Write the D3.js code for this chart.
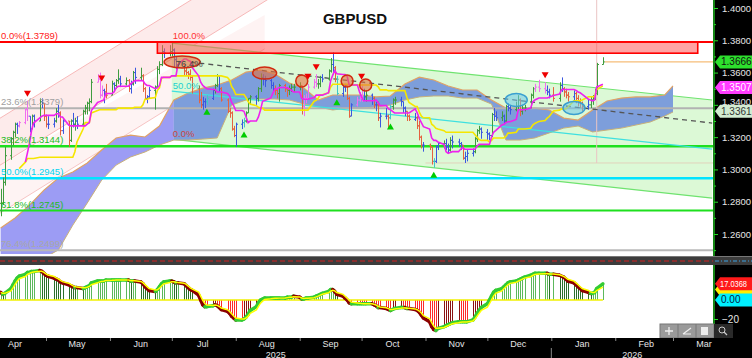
<!DOCTYPE html>
<html><head><meta charset="utf-8">
<script src="https://cdn.jsdelivr.net/npm/d3@7"></script>
<style>
html,body{margin:0;padding:0;background:#fff;}
svg{display:block;font-family:"Liberation Sans",Arial,sans-serif;}
</style></head><body>
<svg id="c" width="752" height="358"></svg>
<script>
// ---------------- DATA ----------------
const title = "GBPUSD";
const startDate = "2025-04-09";
const holidays = ["2025-12-25","2026-01-01"];
const high = [1.2880,1.2950,1.3140,
1.3200,1.3240,1.3290,1.3290,1.3300, 1.3380,1.3425,1.3330,1.3340,1.3340,
1.3440,1.3440,1.3410,1.3340,1.3330, 1.3320,1.3380,1.3400,1.3360,1.3310,
1.3300,1.3310,1.3350,1.3320,1.3330, 1.3370,1.3400,1.3420,1.3440,1.3560,
1.3590,1.3600,1.3520,1.3500,1.3530, 1.3550,1.3540,1.3560,1.3620,1.3580,
1.3570,1.3560,1.3550,1.3610,1.3630, 1.3630,1.3590,1.3510,1.3460,1.3510,
1.3520,1.3640,1.3670,1.3770,1.3750, 1.3770,1.3789,1.3750,1.3700,1.3670,
1.3650,1.3630,1.3610,1.3620,1.3580, 1.3520,1.3480,1.3450,1.3440,1.3460,
1.3500,1.3530,1.3590,1.3580,1.3510, 1.3440,1.3380,1.3360,1.3270,1.3290,
1.3310,1.3320,1.3360,1.3440,1.3460, 1.3460,1.3510,1.3595,1.3590,1.3580,
1.3560,1.3540,1.3520,1.3500,1.3530, 1.3530,1.3510,1.3520,1.3530,1.3530,
1.3540,1.3510,1.3460,1.3470,1.3530, 1.3560,1.3590,1.3560,1.3580,1.3590,
1.3620,1.3690,1.3726,1.3640,1.3580, 1.3520,1.3530,1.3520,1.3450,1.3410,
1.3450,1.3480,1.3530,1.3500,1.3490, 1.3470,1.3450,1.3420,1.3420,1.3350,
1.3380,1.3340,1.3400,1.3440,1.3450, 1.3450,1.3420,1.3390,1.3360,1.3340,
1.3350,1.3330,1.3300,1.3210,1.3170, 1.3160,1.3140,1.3070,1.3150,1.3170,
1.3180,1.3190,1.3160,1.3200,1.3210, 1.3190,1.3170,1.3150,1.3110,1.3120,
1.3130,1.3200,1.3250,1.3270,1.3260, 1.3250,1.3230,1.3350,1.3380,1.3360,
1.3360,1.3340,1.3400,1.3410,1.3400, 1.3420,1.3460,1.3440,1.3400,1.3400,
1.3470,1.3510,1.3530,1.3555, 1.3540,1.3520,1.3500,1.3510,
1.3540,1.3570,1.3510,1.3500,1.3480, 1.3490,1.3480,1.3460,1.3440,1.3420,
1.3430,1.3450,1.3460,1.3500,1.3660, 1.3695];
const low = [1.2710,1.2780,1.2900,
1.3060,1.3150,1.3200,1.3220,1.3260, 1.3280,1.3300,1.3230,1.3250,1.3260,
1.3300,1.3380,1.3300,1.3260,1.3250, 1.3260,1.3290,1.3320,1.3210,1.3220,
1.3140,1.3170,1.3260,1.3240,1.3250, 1.3260,1.3340,1.3340,1.3360,1.3410,
1.3540,1.3440,1.3450,1.3410,1.3440, 1.3460,1.3480,1.3500,1.3530,1.3510,
1.3520,1.3480,1.3470,1.3520,1.3530, 1.3550,1.3480,1.3430,1.3410,1.3440,
1.3370,1.3510,1.3590,1.3640,1.3690, 1.3700,1.3700,1.3630,1.3620,1.3640,
1.3580,1.3580,1.3560,1.3550,1.3470, 1.3410,1.3380,1.3370,1.3380,1.3400,
1.3430,1.3470,1.3510,1.3480,1.3420, 1.3350,1.3320,1.3240,1.3200,1.3140,
1.3250,1.3260,1.3290,1.3350,1.3400, 1.3400,1.3420,1.3480,1.3520,1.3510,
1.3500,1.3480,1.3460,1.3440,1.3420, 1.3480,1.3450,1.3460,1.3480,1.3480,
1.3490,1.3340,1.3330,1.3410,1.3440, 1.3500,1.3510,1.3500,1.3510,1.3540,
1.3550,1.3600,1.3600,1.3540,1.3460, 1.3450,1.3480,1.3430,1.3320,1.3330,
1.3390,1.3420,1.3420,1.3430,1.3420, 1.3400,1.3380,1.3360,1.3300,1.3260,
1.3310,1.3250,1.3310,1.3370,1.3400, 1.3390,1.3350,1.3330,1.3300,1.3300,
1.3300,1.3250,1.3180,1.3130,1.3110, 1.3120,1.3030,1.3010,1.3040,1.3120,
1.3130,1.3120,1.3100,1.3110,1.3130, 1.3140,1.3120,1.3060,1.3040,1.3050,
1.3080,1.3100,1.3170,1.3220,1.3190, 1.3180,1.3180,1.3200,1.3300,1.3300,
1.3300,1.3280,1.3290,1.3360,1.3340, 1.3360,1.3370,1.3330,1.3340,1.3360,
1.3380,1.3440,1.3480,1.3480, 1.3470,1.3460,1.3440,1.3420,
1.3420,1.3480,1.3450,1.3440,1.3420, 1.3430,1.3410,1.3390,1.3380,1.3360,
1.3370,1.3380,1.3400,1.3430,1.3460, 1.3650];
const close = [1.2790,1.2920,1.3085,
1.3190,1.3230,1.3280,1.3270,1.3290, 1.3370,1.3330,1.3250,1.3330,1.3300,
1.3420,1.3410,1.3330,1.3280,1.3280, 1.3300,1.3360,1.3350,1.3240,1.3300,
1.3180,1.3300,1.3280,1.3300,1.3280, 1.3360,1.3380,1.3410,1.3420,1.3540,
1.3560,1.3460,1.3490,1.3480,1.3460, 1.3530,1.3520,1.3550,1.3560,1.3530,
1.3550,1.3500,1.3530,1.3600,1.3570, 1.3580,1.3500,1.3440,1.3450,1.3490,
1.3510,1.3620,1.3650,1.3730,1.3720, 1.3730,1.3740,1.3680,1.3650,1.3650,
1.3610,1.3600,1.3590,1.3570,1.3500, 1.3430,1.3400,1.3420,1.3420,1.3440,
1.3490,1.3520,1.3580,1.3500,1.3430, 1.3360,1.3350,1.3250,1.3210,1.3280,
1.3290,1.3300,1.3350,1.3440,1.3450, 1.3440,1.3500,1.3570,1.3560,1.3550,
1.3520,1.3500,1.3490,1.3470,1.3520, 1.3500,1.3490,1.3500,1.3510,1.3510,
1.3520,1.3390,1.3440,1.3440,1.3510, 1.3540,1.3530,1.3530,1.3570,1.3560,
1.3610,1.3650,1.3630,1.3560,1.3470, 1.3510,1.3520,1.3440,1.3330,1.3400,
1.3430,1.3440,1.3490,1.3450,1.3460, 1.3440,1.3400,1.3400,1.3320,1.3330,
1.3330,1.3320,1.3390,1.3430,1.3430, 1.3420,1.3380,1.3360,1.3330,1.3310,
1.3320,1.3270,1.3200,1.3150,1.3150, 1.3140,1.3050,1.3050,1.3140,1.3160,
1.3160,1.3140,1.3120,1.3180,1.3170, 1.3160,1.3150,1.3070,1.3080,1.3100,
1.3110,1.3190,1.3240,1.3250,1.3230, 1.3220,1.3210,1.3340,1.3330,1.3320,
1.3330,1.3300,1.3390,1.3380,1.3370, 1.3390,1.3430,1.3360,1.3380,1.3380,
1.3460,1.3500,1.3510,1.3500, 1.3490,1.3480,1.3460,1.3440,
1.3520,1.3500,1.3480,1.3460,1.3450, 1.3470,1.3440,1.3420,1.3410,1.3390,
1.3400,1.3430,1.3440,1.3470,1.3650, 1.3666];
const osc = [8,6,7,
12,16,20,23,25, 27,29,29,30,30, 31,30,28,26,25, 23,22,21,19,18,
16,15,14,13,13, 12,13,14,15,18, 20,20,20,20,21, 21,21,21,21,21,
21,21,20,20,20, 19,17,14,12,10, 9,11,14,17,19, 20,20,19,18,18,
17,15,13,11,10, 5,0,-5,-7,-7, -6,-5,-6,-8,-10, -12,-14,-17,-19,-21,
-21,-20,-18,-15,-11, -7,-3,0,1,2, 2,2,2,2,2, 2,3,3,3,4,
3,1,1,2,2, 3,4,5,6,7, 9,11,11,9,6, 4,2,0,-3,-4,
-4,-4,-4,-4,-4, -4,-5,-6,-8,-8, -9,-10,-11,-10,-9, -8,-8,-8,-9,-9,
-10,-11,-13,-16,-19, -23,-28,-31,-32,-30, -28,-27,-26,-25,-24, -23,-23,-23,-23,-23,
-21,-18,-14,-11,-8, -4,0,4,8,10, 12,14,16,18,19, 20,21,22,23,24,
26,27,28,28, 28,28,27,27, 26,25,24,22,20, 18,16,14,12,10,
8,7,7,8,12, 17.04];
// Ichimoku cloud edges, one reading per week from startDate, last reading at cloudEnd
const cloudSpanA = [1.2637,1.2699,1.2779,1.2872,1.2947,1.2984,1.3040,1.3120,1.3195,1.3213,1.3201,1.3269,
1.3430,1.3473,1.3504,1.3523,1.3554,1.3603,1.3616,1.3591,1.3535,1.3504,1.3430,1.3461,1.3461,1.3461,
1.3449,1.3455,1.3529,1.3572,1.3554,1.3517,1.3492,1.3492,1.3430,1.3380,1.3380,1.3380,1.3368,1.3318,
1.3306,1.3368,1.3424,1.3442,1.3449,1.3449,1.3461,1.3517];
const cloudSpanB = [1.2451,1.2451,1.2451,1.2451,1.2501,1.2655,1.2792,1.2934,1.3027,1.3077,1.3108,1.3151,
1.3182,1.3182,1.3188,1.3195,1.3399,1.3430,1.3436,1.3436,1.3430,1.3405,1.3387,1.3368,1.3380,1.3380,
1.3387,1.3399,1.3430,1.3449,1.3455,1.3455,1.3442,1.3442,1.3405,1.3182,1.3182,1.3195,1.3226,1.3256,
1.3269,1.3232,1.3244,1.3256,1.3275,1.3294,1.3331,1.3356];
const cloudEnd = "2026-03-01";
const cloudBullishWeeks = 12;
const fibLevels = [1.3789,1.3379,1.3144,1.2945,1.2745,1.2499];
const fibLabels = ["0.0%(1.3789)","23.6%(1.3379)","38.2%(1.3144)","50.0%(1.2945)","61.8%(1.2745)","76.4%(1.2499)"];
const riseChannel = {dates:["2025-04-05","2025-09-22"], upper:[1.3288,1.4632], middle:[1.2997,1.4341]};
const riseChannelLow = {dates:["2025-04-05","2025-08-15"], lower:[1.2700,1.3747], middle:[1.2997,1.3957]};
const fallChannel = {dates:["2025-07-01","2026-03-20"], upper:[1.3783,1.3430], lower:[1.3188,1.2822]};
const fallChannelLevels = [1.0,0.764,0.5,0.0];
const fallChannelLabels = ["100.0%","76.4%","50.0%","0.0%"];
const trendLine = {dates:["2025-07-10","2026-03-20"], prices:[1.3665,1.3287]};
const resistZone = {dates:["2025-06-24","2026-03-13"], top:1.3789, bottom:1.3720};
const sellSignals = ["2025-04-22","2025-05-28","2025-09-05","2025-09-09","2025-10-01","2025-12-29"];
const buySignals = ["2025-07-18","2025-08-05","2025-09-19","2025-10-15","2025-11-05"];
const redMarks = [{d:"2025-07-06",p:1.3665,w:1},{d:"2025-08-15",p:1.3597,w:0.5},{d:"2025-09-02",p:1.3548,w:0},{d:"2025-09-24",p:1.3548,w:0},{d:"2025-10-03",p:1.3523,w:0}];
const blueMarks = [{d:"2025-12-15",p:1.3430},{d:"2026-01-12",p:1.3380}];
const crossDate = "2026-01-23", crossPrice = 1.3040, crossLineStart = "2025-11-01";
const priceTicks = [1.26,1.28,1.30,1.32,1.34,1.36,1.38,1.40];
const monthLabels = ["Apr","May","Jun","Jul","Aug","Sep","Oct","Nov","Dec","Jan","Feb","Mar"];
const yearLabels = ["2025","2026"];
const lastPrice = 1.3666, tenkanLabel = 1.3507, lineLabel = 1.3361;
const oscLast = 17.0368, oscSignalLevel = 11.0, oscZero = 0.00, oscTicks = [-20];

// ---------------- SETUP ----------------
const parse = d3.timeParse("%Y-%m-%d"), fmt = d3.timeFormat("%Y-%m-%d");
const svg = d3.select("#c");
const PR = 713, MB = 254;
const x = d3.scaleTime().domain([parse("2025-05-01"), parse("2026-03-01")]).range([46, 673]);
const y = d3.scaleLinear().domain([1.26, 1.40]).range([234, 8]);
const yo = d3.scaleLinear().domain([-40, 36.8]).range([338, 265]);

const hol = new Set(holidays);
const dates = [];
for (let d = parse(startDate); dates.length < close.length; d = d3.timeDay.offset(d, 1)) {
  const wd = d.getDay();
  if (wd !== 0 && wd !== 6 && !hol.has(fmt(d))) dates.push(new Date(d));
}
const idxOf = s => dates.findIndex(d => fmt(d) === s);
const bars = dates.map((d, i) => ({d, i, h: high[i], l: low[i], c: close[i], o: i ? close[i - 1] : close[0]}));

function midline(n, start) {
  return bars.map((b, i) => {
    if (i < start) return null;
    const s = Math.max(0, i - n + 1);
    return (d3.max(high.slice(s, i + 1)) + d3.min(low.slice(s, i + 1))) / 2;
  });
}
const tenkan = midline(9, 8), kijun = midline(26, 7);

svg.append("rect").attr("width", 752).attr("height", 358).attr("fill", "#fff");
const defs = svg.append("defs");
defs.append("clipPath").attr("id", "mc").append("rect").attr("x", 0).attr("y", 0).attr("width", PR).attr("height", MB);
const g = svg.append("g").attr("clip-path", "url(#mc)");

function band(dts, a, b, fill) {
  const d = dts.map(parse);
  g.append("path").attr("d", `M${x(d[0])},${y(a[0])}L${x(d[1])},${y(a[1])}L${x(d[1])},${y(b[1])}L${x(d[0])},${y(b[0])}Z`).attr("fill", fill);
}
function seg(dts, a, col, w) {
  const d = dts.map(parse);
  g.append("line").attr("x1", x(d[0])).attr("y1", y(a[0])).attr("x2", x(d[1])).attr("y2", y(a[1])).attr("stroke", col).attr("stroke-width", w);
}
// rising (pink) channel
band(riseChannel.dates, riseChannel.upper, riseChannel.middle, "#fdebeb");
band(riseChannelLow.dates, riseChannelLow.middle, riseChannelLow.lower, "#fef3f3");
seg(riseChannel.dates, riseChannel.upper, "#f7b8b8", 1);
seg(riseChannel.dates, riseChannel.middle, "#f7b8b8", 1);
seg(riseChannelLow.dates, riseChannelLow.lower, "#f7c4c4", 1);

// falling (green) channel
const fc = fallChannel, fd = fc.dates.map(parse);
band(fc.dates, fc.upper, fc.lower, "#dcf9d6");
seg(fc.dates, fc.upper, "#6fe36f", 1.2);
seg(fc.dates, fc.lower, "#6fe36f", 1.2);

// cloud
const cDates = cloudSpanA.map((v, k) => k < cloudSpanA.length - 1 ? d3.timeDay.offset(parse(startDate), 7 * k) : parse(cloudEnd));
const cloud = cDates.map((d, k) => ({d, a: cloudSpanA[k], b: cloudSpanB[k], k}));
const area = d3.area().x(p => x(p.d)).y0(p => y(p.b)).y1(p => y(p.a));
g.append("path").datum(cloud.filter(p => p.k <= cloudBullishWeeks)).attr("d", area).attr("fill", "#9c9cf4");
g.append("path").datum(cloud.filter(p => p.k >= cloudBullishWeeks)).attr("d", area).attr("fill", "#7d9edb");
g.append("path").datum(cloud).attr("d", d3.line().x(p => x(p.d)).y(p => y(p.a))).attr("fill", "none").attr("stroke", "#e0a266").attr("stroke-width", 1.2);
g.append("path").datum(cloud).attr("d", d3.line().x(p => x(p.d)).y(p => y(p.b))).attr("fill", "none").attr("stroke", "#c8b07a").attr("stroke-width", 1);

// fib horizontal lines
const fibColors = ["#ff0000", "#b2b2b2", "#1ee01e", "#00e4ff", "#1ee01e", "#b8b8b8"];
const fibText = ["#ff2020", "#a0a0a0", "#22bb22", "#00d4f0", "#22bb22", "#a8a8a8"];
const fibW = [2, 2, 2.5, 2.5, 2, 2];
fibLevels.forEach((v, i) => g.append("line").attr("x1", 0).attr("x2", PR).attr("y1", y(v)).attr("y2", y(v))
  .attr("stroke", fibColors[i]).attr("stroke-width", fibW[i]));

// crosshair and reference line
g.append("line").attr("x1", x(parse(crossLineStart))).attr("x2", PR).attr("y1", y(crossPrice)).attr("y2", y(crossPrice)).attr("stroke", "#e2d2bc").attr("stroke-width", 1);
g.append("line").attr("x1", x(parse(crossDate))).attr("x2", x(parse(crossDate))).attr("y1", 0).attr("y2", y(crossPrice)).attr("stroke", "#ebc4c4").attr("stroke-width", 1);

// channel mid line and trend line
seg(fc.dates, [(fc.upper[0] + fc.lower[0]) / 2, (fc.upper[1] + fc.lower[1]) / 2], "#3fe0e0", 1.2);
const td = trendLine.dates.map(parse);
g.append("line").attr("x1", x(td[0])).attr("y1", y(trendLine.prices[0])).attr("x2", x(td[1])).attr("y2", y(trendLine.prices[1]))
  .attr("stroke", "#555").attr("stroke-width", 1.3).attr("stroke-dasharray", "5,4");

// bars
const sellIdx = sellSignals.map(idxOf), buyIdx = buySignals.map(idxOf);
function barColor(b) {
  if (sellIdx.some(k => b.i >= k - 2 && b.i <= k)) return "#f070f0";
  if (buyIdx.includes(b.i)) return "#40c8c8";
  const t = tenkan[b.i] == null ? b.c : tenkan[b.i];
  if (b.c >= b.o) return b.c >= t ? "#3f9c3f" : "#3b57e0";
  return b.c < t ? "#e5623f" : "#3b57e0";
}
const bg = g.append("g").attr("stroke-width", 1);
bars.forEach(b => {
  const cx = Math.round(x(b.d)) + 0.5, col = barColor(b);
  bg.append("line").attr("x1", cx).attr("x2", cx).attr("y1", y(b.h)).attr("y2", y(b.l)).attr("stroke", col);
  bg.append("line").attr("x1", cx - 1.5).attr("x2", cx).attr("y1", y(b.o)).attr("y2", y(b.o)).attr("stroke", col);
  bg.append("line").attr("x1", cx).attr("x2", cx + 1.5).attr("y1", y(b.c)).attr("y2", y(b.c)).attr("stroke", col);
});

// tenkan / kijun
const lineOf = arr => d3.line().defined((d, i) => arr[i] != null).x(b => x(b.d)).y((b, i) => y(arr[i]));
g.append("path").datum(bars).attr("d", lineOf(kijun)).attr("fill", "none").attr("stroke", "#f5e600").attr("stroke-width", 1.6);
g.append("path").datum(bars).attr("d", lineOf(tenkan)).attr("fill", "none").attr("stroke", "#ee22ee").attr("stroke-width", 1.6);

// annotation ellipses
redMarks.forEach(m => g.append("ellipse").attr("cx", x(parse(m.d))).attr("cy", y(m.p))
  .attr("rx", 6 + m.w * 12).attr("ry", 6).attr("fill", "rgba(228,112,62,0.6)").attr("stroke", "#d02a10").attr("stroke-width", 1.5));
blueMarks.forEach(m => g.append("ellipse").attr("cx", x(parse(m.d))).attr("cy", y(m.p))
  .attr("rx", 11).attr("ry", 6.5).attr("fill", "rgba(110,200,235,0.55)").attr("stroke", "#3a9fd0").attr("stroke-width", 1.5));

// signals
sellIdx.forEach(i => { if (i < 0) return; const cx = x(dates[i]), cy = y(high[i]) - 7;
  g.append("path").attr("d", `M${cx - 3.5},${cy - 3}L${cx + 3.5},${cy - 3}L${cx},${cy + 3}Z`).attr("fill", "#ee0000"); });
buyIdx.forEach(i => { if (i < 0) return; const cx = x(dates[i]), cy = y(low[i]) + 7;
  g.append("path").attr("d", `M${cx - 3.5},${cy + 3}L${cx + 3.5},${cy + 3}L${cx},${cy - 3}Z`).attr("fill", "#00cc00"); });

// resistance zone
const zd = resistZone.dates.map(parse);
g.append("rect").attr("x", x(zd[0])).attr("y", y(resistZone.top)).attr("width", x(zd[1]) - x(zd[0]))
  .attr("height", y(resistZone.bottom) - y(resistZone.top)).attr("fill", "rgba(255,90,90,0.55)").attr("stroke", "#ff0000").attr("stroke-width", 1.6);

// last price line
g.append("line").attr("x1", x(dates[dates.length - 1]) + 2).attr("x2", PR).attr("y1", y(lastPrice)).attr("y2", y(lastPrice)).attr("stroke", "#f6bd78").attr("stroke-width", 1.2);

// labels
fibLevels.forEach((v, i) => g.append("text").attr("x", 1).attr("y", y(v) - 3).attr("font-size", 9.5).attr("fill", fibText[i]).text(fibLabels[i]));
const fcColors = ["#ff3333", "#444", "#22d0d0", "#cc4444"];
fallChannelLevels.forEach((p, i) => {
  const pv = fc.lower[0] + p * (fc.upper[0] - fc.lower[0]);
  g.append("text").attr("x", x(fd[0]) + (i === 1 ? 4 : 1)).attr("y", y(pv) - (i === 0 ? 4 : i === 1 ? -1 : 2))
    .attr("font-size", 9.5).attr("fill", fcColors[i]).text(fallChannelLabels[i]);
});
svg.append("text").attr("x", 355).attr("y", 24).attr("text-anchor", "middle").attr("font-size", 15).attr("font-weight", "bold")
  .attr("fill", "#111").text(title);

// ---------------- right axis (price) ----------------
svg.append("rect").attr("x", PR).attr("y", 0).attr("width", 752 - PR).attr("height", 358).attr("fill", "#000");
const ax = svg.append("g").attr("transform", `translate(${PR + 1},0)`)
  .call(d3.axisRight(y).tickValues(priceTicks).tickFormat(d3.format(".4f")).tickSize(4));
ax.select(".domain").remove();
ax.selectAll("line").attr("stroke", "#22dd22");
ax.selectAll("text").attr("fill", "#e6e6e6").attr("font-size", 9.5).attr("x", 8);
ax.selectAll(".tick").filter(d => Math.abs(d - 1.34) < 1e-6).select("text").attr("dy", "-0.05em");
const minor = d3.range(1.25, 1.415, 0.01).filter(v => !priceTicks.some(t => Math.abs(t - v) < 1e-6) && y(v) > 0 && y(v) < MB);
svg.append("g").attr("transform", `translate(${PR + 1},0)`).call(d3.axisRight(y).tickValues(minor).tickFormat("").tickSize(2))
  .call(s => { s.select(".domain").remove(); s.selectAll("line").attr("stroke", "#22dd22"); });
svg.append("line").attr("x1", PR + 1).attr("x2", PR + 1).attr("y1", 0).attr("y2", 338).attr("stroke", "#22dd22").attr("stroke-width", 1.2);

function badge(yc, txt, bgc, fg, fit) {
  const x0 = PR + 2;
  svg.append("path").attr("d", `M${x0},${yc}L${x0 + 5},${yc - 6.5}L752,${yc - 6.5}L752,${yc + 6.5}L${x0 + 5},${yc + 6.5}Z`).attr("fill", bgc);
  if (!txt) return;
  const t = svg.append("text").attr("x", x0 + (fit ? 5 : 6)).attr("y", yc + 3.5).attr("font-size", fit ? 8.5 : 10).attr("fill", fg).text(txt);
  if (fit) t.attr("textLength", fit).attr("lengthAdjust", "spacingAndGlyphs");
}
badge(y(lineLabel), lineLabel.toFixed(4), "#d2ecd2", "#333");
badge(y(tenkanLabel), tenkanLabel.toFixed(4), "#ff3cff", "#fff");
badge(y(lastPrice), lastPrice.toFixed(4), "#2de02d", "#111");

// ---------------- separator ----------------
svg.append("rect").attr("x", 0).attr("y", 256).attr("width", 752).attr("height", 9).attr("fill", "#3c3c3c");
svg.append("line").attr("x1", 0).attr("x2", 752).attr("y1", 256.5).attr("y2", 256.5).attr("stroke", "#777");
svg.append("line").attr("x1", 0).attr("x2", PR).attr("y1", 261).attr("y2", 261).attr("stroke", "#d42020").attr("stroke-dasharray", "5,3").attr("stroke-width", 1.2);
svg.append("line").attr("x1", PR + 2).attr("x2", 752).attr("y1", 261).attr("y2", 261).attr("stroke", "#3aa0e0").attr("stroke-dasharray", "4,2,1,2").attr("stroke-width", 1);

// ---------------- oscillator panel ----------------
svg.append("rect").attr("x", 0).attr("y", 265).attr("width", PR).attr("height", 73).attr("fill", "#fff");
const og = svg.append("g");
bars.forEach((b, i) => {
  const v = osc[i], pv = i ? osc[i - 1] : v, cx = Math.round(x(b.d)) + 0.5;
  const col = v >= 0 ? (v >= pv ? "#5cb85c" : "#2c6e2c") : (v <= pv ? "#ff2a2a" : "#8b1212");
  og.append("line").attr("x1", cx).attr("x2", cx).attr("y1", yo(0)).attr("y2", yo(v)).attr("stroke", col).attr("stroke-width", 1);
});
og.append("line").attr("x1", 0).attr("x2", x(dates[dates.length - 1])).attr("y1", yo(0)).attr("y2", yo(0)).attr("stroke", "#f0f000").attr("stroke-width", 1.6);
for (let i = 1; i < bars.length; i++) {
  og.append("line").attr("x1", x(dates[i - 1])).attr("y1", yo(osc[i - 1])).attr("x2", x(dates[i])).attr("y2", yo(osc[i]))
    .attr("stroke", osc[i] >= osc[i - 1] ? "#33cc33" : "#8b0000").attr("stroke-width", 3.5).attr("stroke-linecap", "round");
}
const sig = []; osc.forEach((v, i) => sig.push(i ? sig[i - 1] * 0.5 + v * 0.5 : v));
og.append("path").datum(bars).attr("d", d3.line().x(b => x(b.d)).y((b, i) => yo(sig[i]))).attr("fill", "none").attr("stroke", "#ffff00").attr("stroke-width", 1.5);

// osc axis
const oax = svg.append("g").attr("transform", `translate(${PR + 1},0)`).call(d3.axisRight(yo).tickValues(oscTicks).tickSize(4));
oax.select(".domain").remove();
oax.selectAll("line").attr("stroke", "#22dd22");
oax.selectAll("text").attr("fill", "#e6e6e6").attr("font-size", 10).attr("x", 8);
badge(yo(oscSignalLevel), null, "#ffee00", "#555");
badge(yo(oscLast), oscLast.toFixed(4), "#ff1a1a", "#fff", 27);
badge(yo(oscZero), oscZero.toFixed(2), "#00f0ff", "#024");

// toolbar
const tb = svg.append("g");
tb.append("rect").attr("x", 660).attr("y", 324).attr("width", 54).attr("height", 14).attr("fill", "#9a9a9a").attr("stroke", "#777");
[678, 696].forEach(v => tb.append("line").attr("x1", v).attr("x2", v).attr("y1", 324).attr("y2", 338).attr("stroke", "#777"));
tb.append("path").attr("d", "M665,331L673,331M669,327L669,335").attr("stroke", "#eee").attr("stroke-width", 1.3);
tb.append("path").attr("d", "M683,334L691,328M683,334L691,334").attr("stroke", "#eee").attr("stroke-width", 1.2);
tb.append("rect").attr("x", 701).attr("y", 327).attr("width", 7).attr("height", 8).attr("fill", "#eee");
tb.append("rect").attr("x", 714).attr("y", 324).attr("width", 19).attr("height", 14).attr("fill", "#2a2a2a");
tb.append("circle").attr("cx", 722).attr("cy", 330).attr("r", 3).attr("fill", "none").attr("stroke", "#ccc");
tb.append("line").attr("x1", 724).attr("y1", 332).attr("x2", 727).attr("y2", 335).attr("stroke", "#ccc").attr("stroke-width", 1.3);

// ---------------- time axis ----------------
svg.append("rect").attr("x", 0).attr("y", 338).attr("width", 752).attr("height", 20).attr("fill", "#000");
const months = d3.timeMonth.range(parse("2025-04-01"), parse("2026-04-01"));
svg.append("g").attr("transform", "translate(0,338)")
  .call(d3.axisBottom(x).tickValues(months).tickSize(3).tickFormat(""))
  .call(s => { s.select(".domain").remove(); s.selectAll("line").attr("stroke", "#888"); });
months.forEach((m, i) => svg.append("text").attr("x", x(d3.timeDay.offset(m, 15))).attr("y", 347).attr("text-anchor", "middle")
  .attr("font-size", 9).attr("fill", "#e6e6e6").text(monthLabels[i]));
const yb = x(parse("2026-01-01"));
svg.append("line").attr("x1", yb).attr("x2", yb).attr("y1", 348).attr("y2", 358).attr("stroke", "#888");
svg.append("text").attr("x", yb / 2).attr("y", 357.5).attr("text-anchor", "middle").attr("font-size", 9).attr("fill", "#e6e6e6").text(yearLabels[0]);
svg.append("text").attr("x", (yb + PR) / 2).attr("y", 357.5).attr("text-anchor", "middle").attr("font-size", 9).attr("fill", "#e6e6e6").text(yearLabels[1]);
</script>
</body></html>
